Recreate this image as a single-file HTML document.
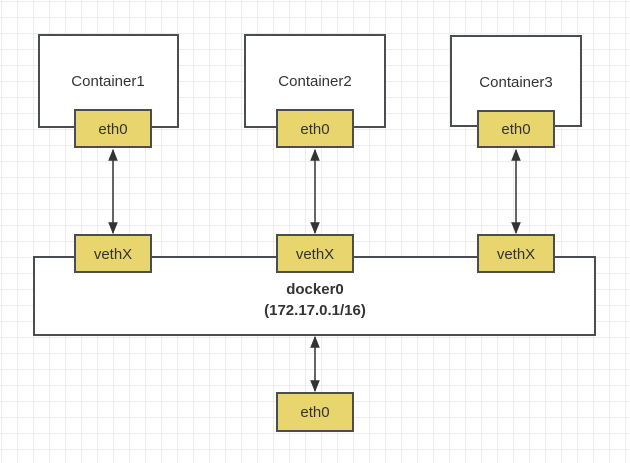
<!DOCTYPE html>
<html><head><style>
body{margin:0;width:630px;height:463px;overflow:hidden;background:#fff;
background-image:linear-gradient(#ededed 1px,transparent 1px),linear-gradient(90deg,#ededed 1px,transparent 1px);
background-size:16px 16px;background-position:1px 1px;font-family:"Liberation Sans",sans-serif;}
</style></head><body>
<svg width="630" height="463" style="position:absolute;left:0;top:0" font-family="Liberation Sans, sans-serif">
<defs><marker id="a" viewBox="0 0 10 10" refX="9" refY="5" markerWidth="8" markerHeight="8" orient="auto-start-reverse"><path d="M0,1 L10,5 L0,9 z" fill="#333"/></marker></defs>
<g stroke="#4a4d52" stroke-width="2" fill="#fff">
<rect x="39" y="35" width="139" height="92"/>
<rect x="245" y="35" width="140" height="92"/>
<rect x="451" y="36" width="130" height="90"/>
<rect x="34" y="257" width="561" height="78"/>
</g>
<g fill="#333" font-size="15" text-anchor="middle">
<text x="108" y="86">Container1</text>
<text x="315" y="86">Container2</text>
<text x="516" y="87">Container3</text>
<text x="315" y="294" font-weight="bold">docker0</text>
<text x="315" y="315" font-weight="bold">(172.17.0.1/16)</text>
</g>
<g stroke="#333" stroke-width="1.5" marker-start="url(#a)" marker-end="url(#a)">
<line x1="113" y1="150" x2="113" y2="233"/>
<line x1="315" y1="150" x2="315" y2="233"/>
<line x1="516" y1="150" x2="516" y2="233"/>
<line x1="315" y1="337" x2="315" y2="391"/>
</g>
<g stroke="#4a4d52" stroke-width="2" fill="#e8d56e">
<rect x="75" y="110" width="76" height="37"/>
<rect x="277" y="110" width="76" height="37"/>
<rect x="478" y="111" width="76" height="36"/>
<rect x="75" y="235" width="76" height="37"/>
<rect x="277" y="235" width="76" height="37"/>
<rect x="478" y="235" width="76" height="37"/>
<rect x="277" y="393" width="76" height="38"/>
</g>
<g fill="#333" font-size="15" text-anchor="middle">
<text x="113" y="134">eth0</text>
<text x="315" y="134">eth0</text>
<text x="516" y="134">eth0</text>
<text x="113" y="259">vethX</text>
<text x="315" y="259">vethX</text>
<text x="516" y="259">vethX</text>
<text x="315" y="417">eth0</text>
</g>
</svg>
</body></html>
